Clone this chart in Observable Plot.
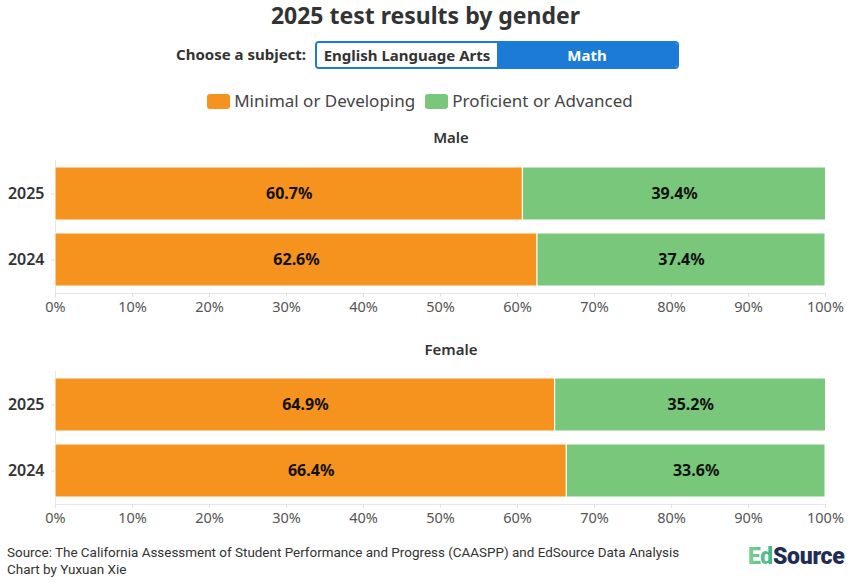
<!DOCTYPE html>
<html>
<head>
<meta charset="utf-8">
<script src="https://cdn.jsdelivr.net/npm/d3@7"></script>
<script src="https://cdn.jsdelivr.net/npm/@observablehq/plot@0.6"></script>
<style>
  body { margin:0; background:#fff; font-family:"Noto Sans", sans-serif; color:#333; }
  #wrap { position:relative; width:851px; height:583px; overflow:hidden; }
  .abs { position:absolute; }
  #title { top:0; left:0; width:851px; text-align:center; font-size:23px; font-weight:700; line-height:30px; color:#333; }
  #choose { top:44px; left:176px; font-size:15px; font-weight:700; line-height:20px; color:#333; }
  #toggle { top:41px; left:315px; width:364px; height:28px; box-sizing:border-box; border:2px solid #1b7bd6; border-radius:4px; overflow:hidden; display:flex; }
  #toggle div { flex:1; text-align:center; font-size:15px; font-weight:700; line-height:24px; }
  #ela { background:#fff; color:#333; }
  #math { background:#1b7bd6; color:#fff; }
  #legend { top:90px; left:0; width:840px; display:flex; justify-content:center; align-items:center; font-size:17px; color:#444; line-height:22px; }
  .sw { display:inline-block; width:23px; height:15px; border-radius:3px; margin-right:4px; }
  .li { display:flex; align-items:center; margin:0 5px; }
  .facet { left:0; width:902px; text-align:center; font-size:15px; font-weight:600; color:#333; line-height:20px; }
  #footer { top:544px; left:7px; font-family:"Liberation Sans Narrow","Roboto",sans-serif; font-size:13.45px; line-height:17px; color:#333; }
  #logo { top:543px; left:748px; font-family:"Roboto", sans-serif; font-weight:900; font-size:23px; color:#1f2d55; letter-spacing:-0.3px; }
  #logo span { background:linear-gradient(90deg,#7fd38a,#3fb58f); -webkit-background-clip:text; background-clip:text; color:transparent; }
</style>
</head>
<body>
<div id="wrap">
  <div id="title" class="abs">2025 test results by gender</div>
  <div id="choose" class="abs">Choose a subject:</div>
  <div id="toggle" class="abs"><div id="ela">English Language Arts</div><div id="math">Math</div></div>
  <div id="legend" class="abs"></div>
  <div class="abs facet" style="top:127px">Male</div>
  <div id="male" class="abs" style="top:150px;left:0"></div>
  <div class="abs facet" style="top:339px">Female</div>
  <div id="female" class="abs" style="top:361px;left:0"></div>
  <div id="footer" class="abs">Source: The California Assessment of Student Performance and Progress (CAASPP) and EdSource Data Analysis<br>Chart by Yuxuan Xie</div>
  <div id="logo" class="abs"><span>Ed</span>Source</div>
</div>
<script>
const years = ["2025", "2024"];
const levels = ["Minimal or Developing", "Proficient or Advanced"];
const colors = ["#f6921e", "#79c77b"];
const maleMinimal = [60.7, 62.6];
const maleProficient = [39.4, 37.4];
const femaleMinimal = [64.9, 66.4];
const femaleProficient = [35.2, 33.6];
const xTicks = [0, 10, 20, 30, 40, 50, 60, 70, 80, 90, 100];

// legend
const legend = document.getElementById("legend");
levels.forEach((l, i) => {
  const item = document.createElement("div");
  item.className = "li";
  item.innerHTML = `<span class="sw" style="background:${colors[i]}"></span>${l}`;
  legend.appendChild(item);
});

function rows(minimal, proficient) {
  const out = [];
  years.forEach((y, i) => {
    out.push({year: y, level: levels[0], value: minimal[i]});
    out.push({year: y, level: levels[1], value: proficient[i]});
  });
  return out;
}

function chart(data) {
  return Plot.plot({
    width: 851,
    height: 170,
    marginTop: 10,
    marginBottom: 27,
    marginLeft: 55,
    marginRight: 26,
    style: {fontFamily: "Noto Sans, sans-serif", fontSize: "14px", background: "transparent"},
    x: {domain: [0, 100]},
    y: {domain: years, paddingInner: 0.2, paddingOuter: 0.1},
    color: {domain: levels, range: colors},
    marks: [
      Plot.ruleX([0], {stroke: "#e6e6e6", strokeWidth: 1}),
      Plot.frame({anchor: "bottom", stroke: "#e6e6e6"}),
      Plot.barX(data, Plot.stackX({x: "value", y: "year", fill: "level", stroke: "white", strokeWidth: 1, clip: true})),
      Plot.textX(data, Plot.stackX({x: "value", y: "year", text: d => d.value.toFixed(1) + "%", fill: "#111", fontWeight: 700, fontSize: 16})),
      Plot.axisX({ticks: xTicks, tickFormat: d => d + "%", tickSize: 4, tickPadding: 4, stroke: "#e0e0e0", fill: "#555", fontSize: 14.5, label: null}),
      Plot.axisY({tickSize: 4, tickPadding: 7, stroke: "#e0e0e0", fill: "#333", fontSize: 16, fontWeight: 600, label: null})
    ]
  });
}

document.getElementById("male").appendChild(chart(rows(maleMinimal, maleProficient)));
document.getElementById("female").appendChild(chart(rows(femaleMinimal, femaleProficient)));
</script>
</body>
</html>
